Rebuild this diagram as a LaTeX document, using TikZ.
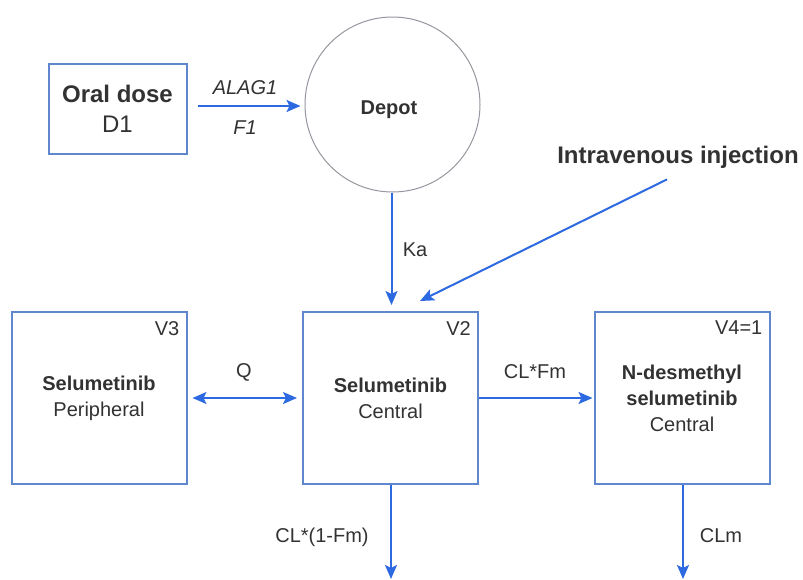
\documentclass[tikz,border=0pt]{standalone}
\usepackage{fontspec}
\setmainfont{Liberation Sans}
\usetikzlibrary{arrows.meta,calc}
\definecolor{boxblue}{RGB}{95,135,205}
\definecolor{arrblue}{RGB}{45,105,225}
\definecolor{txt}{RGB}{50,50,50}
\definecolor{circgray}{RGB}{150,150,160}
\begin{document}
\begin{tikzpicture}[x=1pt,y=-1pt,
  every node/.style={text=txt},
  lbl/.style={font=\fontsize{20}{24}\selectfont, inner sep=0pt},
  comp/.style={draw=boxblue, line width=2pt, minimum width=175pt, minimum height=172pt,
    align=center, font=\fontsize{20}{26}\selectfont},
  vol/.style={font=\fontsize{20}{24}\selectfont, inner sep=0pt, anchor=north east},
  tip/.style={Stealth[length=14pt,width=12pt,inset=3pt]},
  arr/.style={draw=arrblue, line width=2pt, -{Stealth[length=14pt,width=12pt,inset=3pt]}},
  darr/.style={draw=arrblue, line width=2pt, {Stealth[length=14pt,width=12pt,inset=3pt]}-{Stealth[length=14pt,width=12pt,inset=3pt]}}
]
\useasboundingbox (0,0) rectangle (803,579);
% nodes
\node[draw=boxblue, line width=2pt, minimum width=138pt, minimum height=90pt, align=center,
  font=\fontsize{24}{30}\selectfont] (oral) at (117.5,108.5) {\textbf{Oral dose}\\D1};
\node[circle, draw=circgray, line width=1pt, minimum size=175pt] (depot) at (392.5,104.5) {};
\node[font=\bfseries\fontsize{20}{24}\selectfont, inner sep=0pt] (depottxt) at (389,110) {Depot};
\node[font=\bfseries\fontsize{24}{28}\selectfont, inner sep=0pt] (iv) at (678,157) {Intravenous injection};
\node[comp] (periph) at (99,398) {\textbf{Selumetinib}\\Peripheral};
\node[comp] (central) at (390.5,398) {\textbf{Selumetinib}\\Central};
\node[comp] (metab) at (682,398) {\textbf{N-desmethyl}\\\textbf{selumetinib}\\Central};
\node[vol] (v3) at ([xshift=-8pt,yshift=-10pt]periph.north east) {V3};
\node[vol] (v2) at ([xshift=-8pt,yshift=-10pt]central.north east) {V2};
\node[vol] (v4) at ([xshift=-8pt,yshift=-10pt]metab.north east) {V4=1};
\coordinate (ivend) at (420,301);
\coordinate (cout) at (391,579);
\coordinate (mout) at (683,579);
% connectors
\draw[arr, shorten <=10pt, shorten >=4pt] ([yshift=2.5pt]oral.east) -- ([yshift=2.5pt]oral.east -| depot.west);
\node[lbl, font=\itshape\fontsize{20}{24}\selectfont] (alag) at (245,88) {ALAG1};
\node[lbl, font=\itshape\fontsize{20}{24}\selectfont] (f1) at (245,128) {F1};
\draw[arr, shorten >=6pt] ([xshift=-1pt]depot.south) -- ([xshift=-1pt]depot.south |- central.north);
\node[lbl] (ka) at (415,250) {Ka};
\draw[arr] ($(iv.south)+(-11,11)$) -- (ivend);
\draw[darr, shorten <=5pt, shorten >=5pt] (periph.east) -- (central.west);
\node[lbl] (q) at (244,372) {Q};
\draw[arr, shorten >=1pt] (central.east) -- (metab.west);
\node[lbl] (clfm) at (535,372) {CL*Fm};
\draw[arr] (cout |- central.south) -- (cout);
\node[lbl] (cl1) at (322,537) {CL*(1-Fm)};
\draw[arr] (mout |- metab.south) -- (mout);
\node[lbl] (clm) at (721,536) {CLm};
\end{tikzpicture}
\end{document}
